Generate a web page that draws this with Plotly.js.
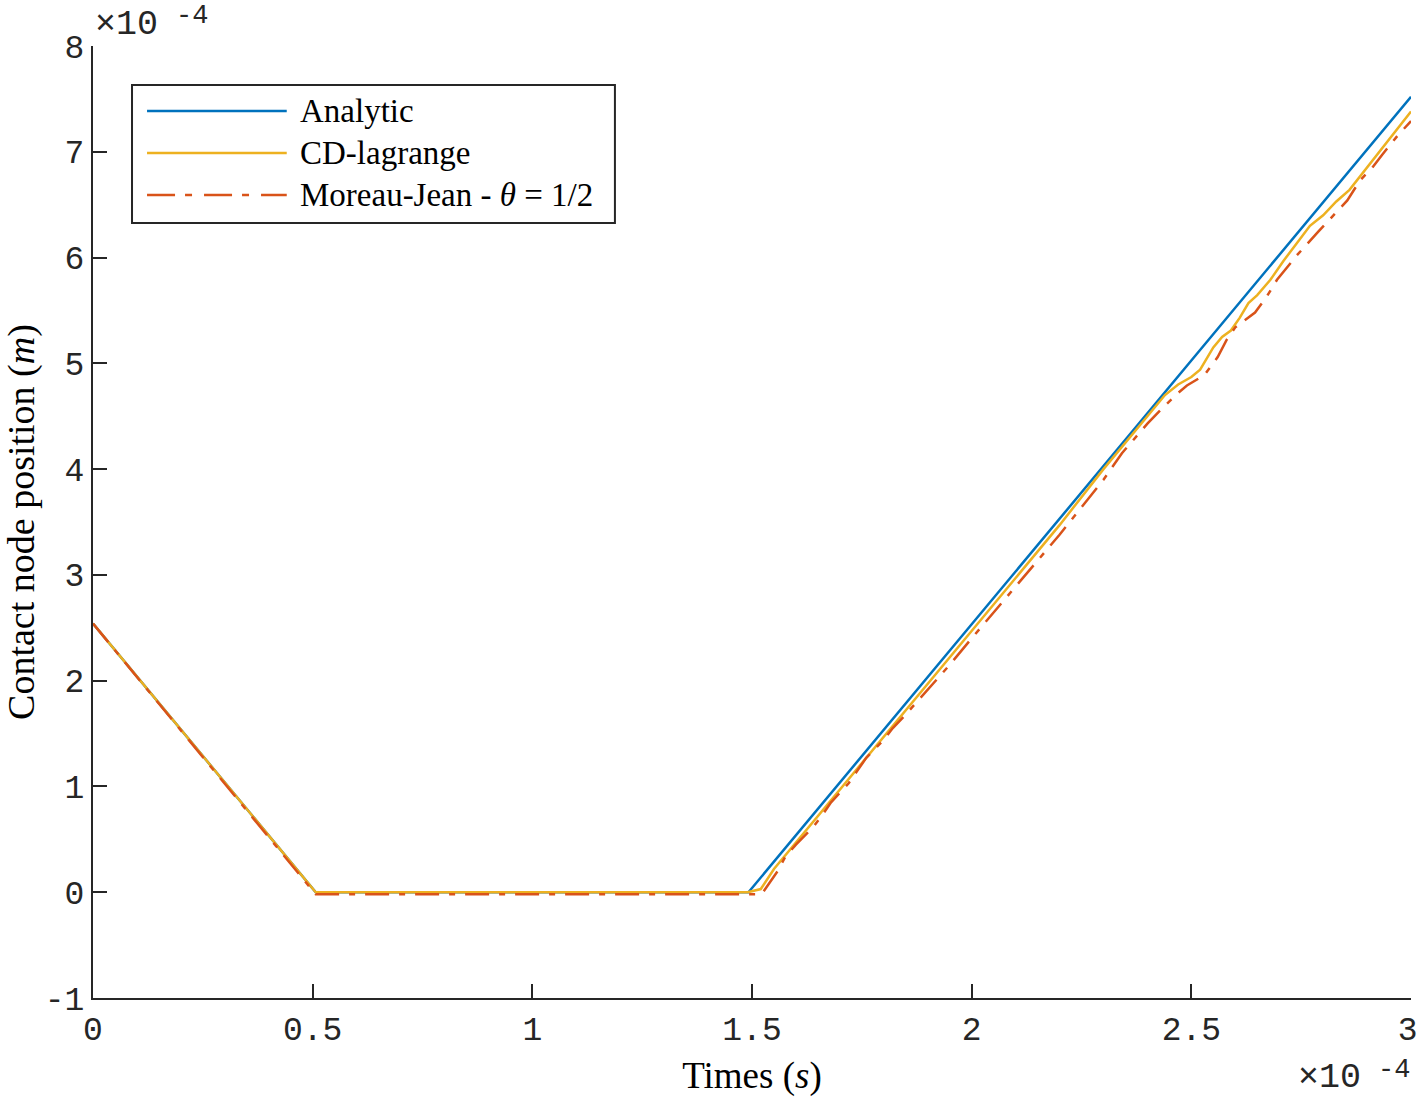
<!DOCTYPE html>
<html>
<head>
<meta charset="utf-8">
<script src="https://cdn.plot.ly/plotly-3.0.1.min.js"></script>
<style>
  body { margin: 0; background: #fff; }
  #chart { width: 1419px; height: 1099px; }
</style>
</head>
<body>
<div id="chart"></div>
<script>
// times and positions are in units of 1e-4 (s and m), as on the axes
var tAnalytic = [0, 0.507, 1.492, 3.0];
var yAnalytic = [2.54, 0, 0, 7.52];

var tCD = [0, 0.507, 1.49, 1.52, 1.55, 1.6, 1.7, 1.8, 1.9, 2.0, 2.1, 2.2, 2.3, 2.35, 2.4, 2.44, 2.47, 2.5,
  2.52, 2.55, 2.57, 2.59, 2.61, 2.63, 2.65, 2.68, 2.71, 2.74, 2.77, 2.8, 2.83, 2.86, 2.89, 2.92, 2.95, 2.98, 3.0];
var yCD = [2.54, 0, 0, 0.03, 0.22, 0.47, 0.96, 1.46, 1.97, 2.47, 2.97, 3.47, 4.0, 4.25, 4.5, 4.7, 4.8, 4.87,
  4.94, 5.15, 5.25, 5.31, 5.43, 5.57, 5.645, 5.79, 5.97, 6.14, 6.3, 6.4, 6.53, 6.64, 6.8, 6.96, 7.12, 7.28, 7.38];

var tMJ = [0, 0.507, 1.52, 1.525, 1.56, 1.575, 1.6, 1.64, 1.66, 1.68, 1.72, 1.74, 1.76, 1.8, 1.82, 1.85, 1.88,
  1.95, 2.0, 2.1, 2.2, 2.3, 2.342, 2.4, 2.43, 2.47, 2.49, 2.53, 2.56, 2.58, 2.6, 2.645, 2.67, 2.695, 2.74,
  2.79, 2.82, 2.855, 2.884, 2.911, 2.934, 2.971, 3.0];
var yMJ = [2.54, -0.02, -0.02, 0.0, 0.21, 0.33, 0.45, 0.62, 0.73, 0.85, 1.03, 1.15, 1.27, 1.44, 1.55, 1.68, 1.82,
  2.15, 2.4, 2.89, 3.38, 3.9, 4.15, 4.43, 4.56, 4.72, 4.79, 4.89, 5.06, 5.22, 5.34, 5.48, 5.62, 5.79, 6.02,
  6.25, 6.38, 6.54, 6.73, 6.845, 6.97, 7.16, 7.29];

var xTicks = [0, 0.5, 1, 1.5, 2, 2.5, 3];
var xTickText = ['0', '0.5', '1', '1.5', '2', '2.5', '3\u2009'];
var yTicks = [-1, 0, 1, 2, 3, 4, 5, 6, 7, 8];
var yTickText = ['-1', '0', '1', '2', '3', '4', '5', '6', '7', '8'];

var blue = '#0072BD', yellow = '#EDB120', red = '#D95319';
var ink = '#262626';
var mono = 'Liberation Mono, monospace';
var serif = 'Liberation Serif, serif';

var traces = [
  {x: tAnalytic, y: yAnalytic, mode: 'lines', name: 'Analytic',
   line: {color: blue, width: 2.5}},
  {x: tCD, y: yCD, mode: 'lines', name: 'CD-lagrange',
   line: {color: yellow, width: 2.5}},
  {x: tMJ, y: yMJ, mode: 'lines', name: 'Moreau-Jean',
   line: {color: red, width: 2.5, dash: '24px,10px,6px,10px'}}
];

// hand drawn legend, matching the MATLAB box
var legRows = [
  {label: 'Analytic', color: blue, dash: 'solid', y: 0.9317},
  {label: 'CD-lagrange', color: yellow, dash: 'solid', y: 0.8876},
  {label: 'Moreau-Jean - <i>θ</i> = 1/2', color: red, dash: '28px,10px,7px,12px', y: 0.8435}
];

var shapes = [{
  type: 'rect', xref: 'paper', yref: 'paper',
  x0: 0.0296, x1: 0.396, y0: 0.814, y1: 0.959,
  line: {color: ink, width: 2}, fillcolor: '#fff', layer: 'above'
}];
var annotations = [];
legRows.forEach(function (r) {
  shapes.push({type: 'line', xref: 'paper', yref: 'paper', x0: 0.041, x1: 0.147, y0: r.y, y1: r.y,
    line: {color: r.color, width: 2.5, dash: r.dash}, layer: 'above'});
  annotations.push({xref: 'paper', yref: 'paper', x: 0.1555, y: r.y, xanchor: 'left', yanchor: 'middle',
    text: r.label, showarrow: false, font: {family: serif, size: 33, color: '#000'}});
});

// MATLAB style exponent labels, base and power placed separately
function expLabel(xBase, yBase, xPow, yPow) {
  annotations.push({xref: 'paper', yref: 'paper', x: xBase, y: yBase, xanchor: 'left', yanchor: 'middle',
    text: '×10', showarrow: false, font: {family: mono, size: 35, color: ink}});
  annotations.push({xref: 'paper', yref: 'paper', x: xPow, y: yPow, xanchor: 'left', yanchor: 'middle',
    text: '-4', showarrow: false, font: {family: mono, size: 27, color: ink}});
}
expLabel(0.0, 1.0225, 0.0615, 1.031);
expLabel(0.9125, -0.084, 0.9735, -0.0756);

var layout = {
  width: 1419,
  height: 1099,
  paper_bgcolor: '#fff',
  plot_bgcolor: '#fff',
  showlegend: false,
  margin: {l: 93, r: 8, t: 46, b: 101},
  xaxis: {
    range: [0, 3],
    tickvals: xTicks, ticktext: xTickText,
    ticks: 'inside', ticklen: 14, tickwidth: 2, tickcolor: ink,
    showline: true, linecolor: ink, linewidth: 2,
    showgrid: false, zeroline: false, ticklabeloverflow: 'allow',
    tickfont: {family: mono, size: 33, color: ink},
    title: {text: 'Times (<i>s</i>)', font: {family: serif, size: 37, color: '#000'}, standoff: 14}
  },
  yaxis: {
    range: [-1, 8],
    tickvals: yTicks, ticktext: yTickText,
    ticks: 'inside', ticklen: 14, tickwidth: 2, tickcolor: ink,
    showline: true, linecolor: ink, linewidth: 2,
    showgrid: false, zeroline: false, ticklabeloverflow: 'allow',
    tickfont: {family: mono, size: 33, color: ink},
    title: {text: 'Contact node position (<i>m</i>)', font: {family: serif, size: 38, color: '#000'}, standoff: 8}
  },
  shapes: shapes,
  annotations: annotations
};

Plotly.newPlot('chart', traces, layout, {displayModeBar: false});
</script>
</body>
</html>
